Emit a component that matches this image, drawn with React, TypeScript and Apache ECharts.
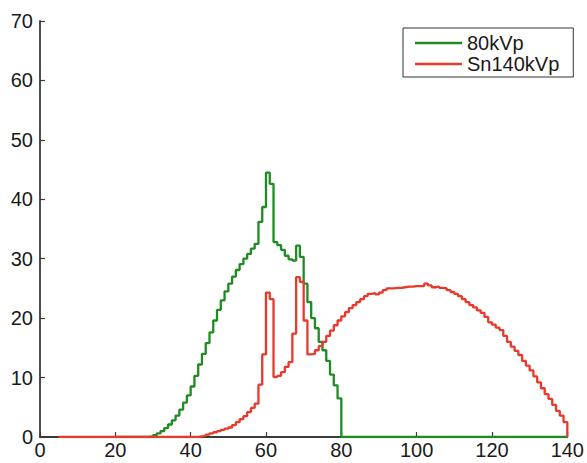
import React, { useEffect, useRef } from "react";
import * as echarts from "echarts";

// Energy bins (keV); each value holds over [keV, keV + 1)
const greenName = "80kVp";
const greenStart = 20;
const greenValues = [
  0, 0, 0, 0, 0, 0, 0, 0, 0, 0.1, // 20-29
  0.3, 0.6, 1.0, 1.5, 2.1, 2.8, 3.6, 4.6, 5.8, 7.0, // 30-39
  8.5, 10.3, 12.2, 14.0, 15.8, 17.6, 19.6, 21.4, 23.0, 24.5, // 40-49
  25.8, 27.0, 28.1, 29.1, 30.0, 30.8, 31.7, 32.5, 36.2, 38.7, // 50-59
  44.5, 42.6, 32.8, 32.3, 31.5, 30.5, 29.9, 29.7, 32.2, 30.3, // 60-69
  25.8, 22.7, 20.0, 18.3, 16.0, 14.6, 12.8, 10.5, 8.7, 6.5, // 70-79
  0, // 80
];
const greenEnd = 140;

const redName = "Sn140kVp";
const redStart = 5;
const redValues = [
  0, 0, 0, 0, 0, // 5-9
  0, 0, 0, 0, 0, 0, 0, 0, 0, 0, // 10-19
  0, 0, 0, 0, 0, 0, 0, 0, 0, 0, // 20-29
  0, 0, 0, 0, 0, 0, 0, 0, 0, 0, // 30-39
  0, 0, 0.1, 0.2, 0.4, 0.6, 0.8, 1.0, 1.2, 1.4, // 40-49
  1.6, 2.0, 2.5, 3.0, 3.5, 4.2, 4.9, 5.6, 8.8, 13.9, // 50-59
  24.3, 23.2, 10.1, 10.3, 10.9, 11.8, 12.6, 17.4, 26.9, 26.1, // 60-69
  19.6, 13.9, 14.0, 14.6, 15.3, 16.0, 17.0, 17.9, 18.8, 19.6, // 70-79
  20.3, 21.0, 21.7, 22.2, 22.7, 23.2, 23.7, 24.1, 24.2, 24.0, // 80-89
  24.3, 24.7, 25.0, 25.0, 25.1, 25.1, 25.2, 25.3, 25.3, 25.4, // 90-99
  25.4, 25.4, 25.8, 25.5, 25.2, 25.3, 25.1, 25.0, 24.7, 24.4, // 100-109
  24.1, 23.7, 23.2, 22.7, 22.2, 21.8, 21.3, 20.9, 20.2, 19.3, // 110-119
  18.9, 18.4, 18.0, 17.0, 16.0, 15.2, 14.5, 13.8, 12.8, 12.0, // 120-129
  11.2, 10.2, 9.2, 8.2, 7.2, 6.4, 5.4, 4.4, 3.6, 2.5, // 130-139
];
const redEnd = 140;

const xMin = 0;
const xMax = 140;
const xStep = 20;
const yMin = 0;
const yMax = 70;
const yStep = 10;

const GREEN = "#1f8b22";
const RED = "#e8392b";
const AXIS = "#3a3a3a";
const FONT = "'Liberation Sans', Arial, Helvetica, sans-serif";

export default function App() {
  const ref = useRef<HTMLDivElement>(null);

  useEffect(() => {
    document.body.style.margin = "0";
    document.body.style.overflow = "hidden";
    if (!ref.current) return;
    const chart = echarts.init(ref.current, undefined, { renderer: "svg" });

    const greenData: number[][] = greenValues.map((v, i) => [greenStart + i, v]);
    greenData.push([greenEnd, 0]);
    const redData: number[][] = redValues.map((v, i) => [redStart + i, v]);
    redData.push([redEnd, 0]);

    const axisCommon = {
      axisLine: { show: true, onZero: false, lineStyle: { color: AXIS, width: 1.8 } },
      axisTick: { show: true, inside: true, length: 5, lineStyle: { color: AXIS, width: 1.2 } },
      splitLine: { show: false },
    };

    chart.setOption({
      animation: false,
      backgroundColor: "#ffffff",
      grid: { left: 40, right: 17, top: 21, bottom: 26, containLabel: false },
      xAxis: {
        type: "value",
        min: xMin,
        max: xMax,
        interval: xStep,
        ...axisCommon,
        axisLabel: { fontSize: 20, color: "#1a1a1a", fontFamily: FONT, margin: 3 },
      },
      yAxis: {
        type: "value",
        min: yMin,
        max: yMax,
        interval: yStep,
        ...axisCommon,
        axisLabel: { fontSize: 20, color: "#1a1a1a", fontFamily: FONT, margin: 7 },
      },
      legend: {
        orient: "vertical",
        left: 403,
        top: 28,
        padding: [5, 14, 3, 12],
        itemGap: 1,
        itemWidth: 47,
        itemHeight: 2.5,
        backgroundColor: "#ffffff",
        borderColor: "#333333",
        borderWidth: 1,
        borderRadius: 0,
        textStyle: { fontSize: 20, lineHeight: 20, color: "#1a1a1a", fontFamily: FONT },
        data: [
          { name: greenName, icon: "rect" },
          { name: redName, icon: "rect" },
        ],
      },
      series: [
        {
          name: greenName,
          type: "line",
          step: "end",
          symbol: "none",
          color: GREEN,
          lineStyle: { color: GREEN, width: 2.3 },
          data: greenData,
          silent: true,
        },
        {
          name: redName,
          type: "line",
          step: "end",
          symbol: "none",
          color: RED,
          lineStyle: { color: RED, width: 2.3 },
          data: redData,
          silent: true,
        },
      ],
    });

    return () => {
      chart.dispose();
    };
  }, []);

  return (
    <div
      ref={ref}
      style={{ position: "fixed", left: 0, top: 0, width: 587, height: 463, background: "#fff" }}
    />
  );
}
